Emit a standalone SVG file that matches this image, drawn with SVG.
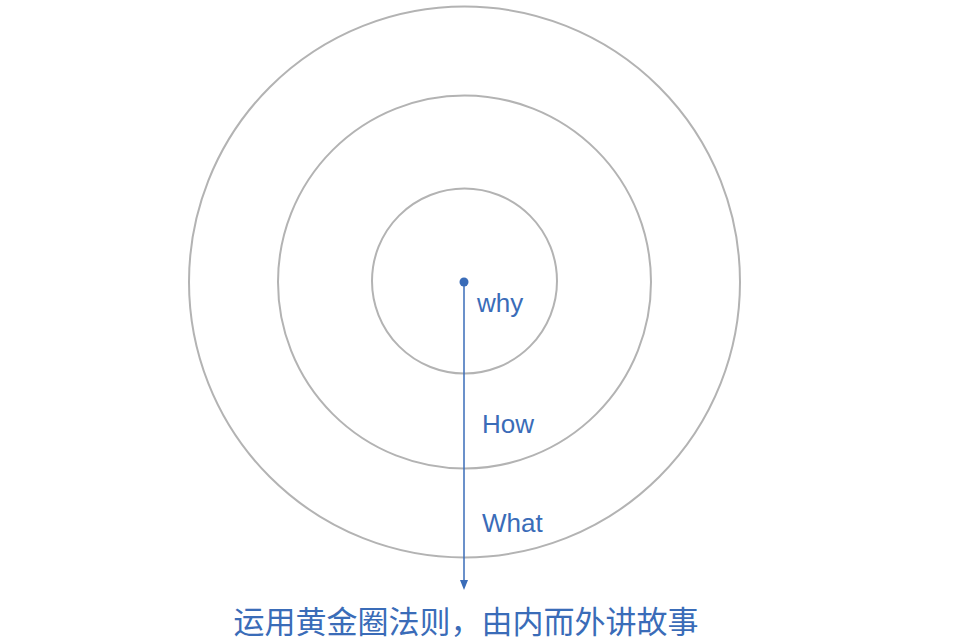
<svg xmlns="http://www.w3.org/2000/svg" width="953" height="644" viewBox="0 0 953 644">
<style>
.ring{fill:none;stroke:#b3b3b3;stroke-width:2}
.lbl{font-family:"Liberation Sans","Noto Sans CJK SC",sans-serif;fill:#3a6cb8;font-size:26px}
</style>
<defs><marker id="ah" markerWidth="10" markerHeight="10" refX="5" refY="5" orient="auto" markerUnits="userSpaceOnUse"><path d="M0,1 L10,5 L0,9 Z" fill="#3a6cb8"/></marker></defs>
<rect width="953" height="644" fill="#fff"/>
<g id="outer"><circle class="ring" cx="464.5" cy="282" r="275.5"/></g>
<g id="middle"><circle class="ring" cx="464.5" cy="282" r="186.5"/></g>
<g id="inner"><circle class="ring" cx="464.5" cy="281" r="92.5"/></g>
<g id="connectors">
<circle cx="464" cy="282" r="4.5" fill="#3a6cb8"/>
<line x1="464" y1="282" x2="464" y2="585" stroke="#3a6cb8" stroke-width="1.5" marker-end="url(#ah)"/>
</g>
<g id="labels">
<text class="lbl" x="477" y="312">why</text>
<text class="lbl" x="482" y="433">How</text>
<text class="lbl" x="482" y="532">What</text>
<text class="lbl" x="466" y="633" text-anchor="middle" style="font-size:31px">运用黄金圈法则，由内而外讲故事</text>
</g>
</svg>
